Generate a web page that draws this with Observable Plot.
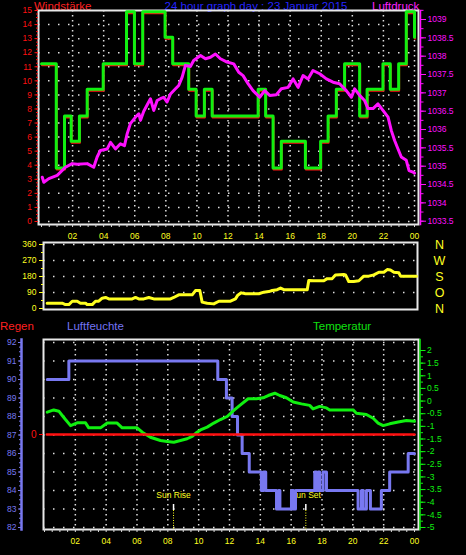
<!DOCTYPE html>
<html><head><meta charset="utf-8">
<script src="https://cdn.jsdelivr.net/npm/d3@7"></script>
<script src="https://cdn.jsdelivr.net/npm/@observablehq/plot@0.6"></script>
<style>
html,body{margin:0;padding:0;background:#000;}
#chart{position:relative;width:466px;height:555px;background:#000;overflow:hidden;font-family:"Liberation Sans",Arial,sans-serif;}
.layer{position:absolute;left:0;}
.lbl{position:absolute;white-space:nowrap;font-size:11.5px;line-height:12px;}
</style></head><body>
<div id="chart">
  <div class="lbl" style="left:34px;top:-0.5px;color:#ff2020">Windstärke</div>
  <div class="lbl" style="left:256px;top:-0.5px;color:#2424ff;transform:translateX(-50%)">24 hour graph day : 23 Januar 2015</div>
  <div class="lbl" style="left:372px;top:-0.5px;color:#ff20ff">Luftdruck</div>
  <div class="lbl" style="left:0px;top:320px;color:#ff2020">Regen</div>
  <div class="lbl" style="left:67px;top:320px;color:#7474f4">Luftfeuchte</div>
  <div class="lbl" style="left:313px;top:320px;color:#10e010">Temperatur</div>
</div>
<script>
// ---------- data ----------
const hourTicks  = [2,4,6,8,10,12,14,16,18,20,22,24];
const hourLabels = ["02","04","06","08","10","12","14","16","18","20","22","00"];

// Windstärke (step series)
const windTime  = [0,0.95,1.48,1.91,2.44,2.94,3.97,5.47,5.98,6.51,7.95,8.44,9.47,9.95,10.48,10.98,13.94,14.42,14.90,15.43,16.98,17.96,18.44,18.97,19.50,20.47,20.95,21.97,22.44,22.98,23.47,24.0];
const windSpeed = [11.1,3.7,7.4,5.6,7.4,9.3,11.1,14.8,11.1,14.8,13.0,11.1,9.3,7.4,9.3,7.4,9.3,7.4,3.7,5.6,3.7,5.6,7.4,9.3,11.1,7.4,9.3,11.1,9.3,11.1,14.8,13.0];
const windTicks = [0,1,2,3,4,5,6,7,8,9,10,11,12,13,14,15];

// Luftdruck
const pressTime = [0.05,0.15,0.47,1.01,1.54,1.97,2.30,2.94,3.36,3.58,3.79,4.23,4.44,4.76,5.08,5.34,5.51,5.72,6.05,6.26,6.37,6.58,7.01,7.22,7.44,7.65,7.86,8.08,8.30,8.62,8.83,9.05,9.26,9.58,9.79,10.23,10.55,10.87,11.19,11.51,11.94,12.37,12.69,12.97,13.29,13.61,14.04,14.36,14.68,15.11,15.43,15.87,16.19,16.51,16.83,17.15,17.47,17.90,18.33,18.76,19.18,19.61,19.94,20.15,20.47,20.79,21.01,21.33,21.65,21.97,22.30,22.51,22.72,22.94,23.15,23.47,23.65,23.90,24.0];
const pressure  = [1034.70,1034.56,1034.66,1034.75,1034.97,1035.07,1035.05,1035.07,1034.97,1035.25,1035.43,1035.47,1035.65,1035.47,1035.61,1035.56,1035.88,1036.16,1036.34,1036.43,1036.25,1036.50,1036.84,1036.52,1036.79,1036.84,1036.88,1036.75,1036.97,1037.11,1037.20,1037.43,1037.75,1037.72,1037.88,1038.02,1037.93,1037.97,1038.06,1037.93,1037.84,1037.79,1037.56,1037.47,1037.25,1037.06,1036.88,1037.06,1036.93,1036.95,1037.11,1037.15,1037.38,1037.15,1037.47,1037.38,1037.61,1037.52,1037.38,1037.29,1037.25,1037.06,1036.88,1037.11,1036.93,1036.79,1036.57,1036.57,1036.70,1036.52,1036.34,1035.97,1035.70,1035.47,1035.25,1035.16,1034.88,1034.84,1034.81];
const pressTicks  = [1033.5,1034,1034.5,1035,1035.5,1036,1036.5,1037,1037.5,1038,1038.5,1039];
const pressLabels = ["1033.5","1034","1034.5","1035","1035.5","1036","1036.5","1037","1037.5","1038","1038.5","1039"];

// Windrichtung
const dirTime  = [0.17,1.14,1.35,1.57,1.79,2.11,2.32,2.65,2.75,3.08,3.29,3.50,3.72,3.94,4.15,5.66,5.87,6.08,6.41,6.73,7.05,8.13,8.34,8.66,9.53,9.74,10.02,10.17,10.50,10.92,11.25,12.0,12.32,12.47,12.69,12.97,13.83,14.15,14.47,14.69,15.01,15.23,15.44,16.95,17.05,17.37,18.02,18.24,18.56,18.77,19.31,19.42,19.63,19.95,20.28,20.60,20.92,21.25,21.57,21.89,22.11,22.32,22.54,22.86,22.97,24.0];
const direction = [30,30,22,22,41,41,30,30,22,22,41,41,58,62,54,54,62,54,54,62,54,54,62,77,77,101,101,36,30,26,41,41,54,75,88,83,83,92,95,101,106,115,106,106,157,156,156,168,168,189,191,189,152,152,156,182,182,189,204,204,219,216,204,201,182,182];
const dirTicks   = [0,90,180,270,360];
const dirCompass = ["N","O","S","W","N"];

// Luftfeuchte (step series)
const humTime  = [0.18,1.58,11.24,11.80,12.17,12.52,12.82,13.28,14.07,14.20,14.35,15.05,15.18,15.27,16.02,16.15,16.28,17.53,17.64,17.75,17.85,18.07,18.29,20.34,20.56,20.67,20.88,21.14,21.85,22.39,23.59,24.0];
const humidity = [90,91,90,89,88,87,86,85,84,85,84,83,84,83,84,83,84,85,84,85,84,85,84,83,84,83,84,83,84,85,86,86];
const humTicks = [82,83,84,85,86,87,88,89,90,91,92];

// Temperatur
const tempTime = [0.18,0.60,0.93,1.15,1.36,1.69,2.12,2.66,2.87,3.63,4.07,4.71,5.04,6.01,6.34,6.87,7.52,7.96,8.39,8.82,9.25,9.58,9.90,10.12,10.55,10.98,11.41,11.85,12.28,12.67,13.21,13.75,14.18,14.51,14.94,15.26,15.69,16.13,16.67,17.20,17.42,17.85,18.29,18.50,20.02,20.23,20.88,21.32,21.64,21.97,22.39,22.94,23.48,24.0];
const temperature = [-0.44,-0.35,-0.40,-0.57,-0.73,-0.97,-0.86,-0.86,-1.06,-1.06,-0.87,-0.87,-1.06,-1.06,-1.23,-1.43,-1.56,-1.60,-1.63,-1.56,-1.49,-1.40,-1.23,-1.14,-1.03,-0.87,-0.73,-0.61,-0.37,-0.17,0.09,0.09,0.13,0.22,0.31,0.22,0.13,-0.04,-0.11,-0.17,-0.31,-0.21,-0.27,-0.35,-0.35,-0.48,-0.53,-0.68,-0.87,-0.97,-0.90,-0.83,-0.77,-0.80];
const tempTicks  = [-5,-4.5,-4,-3.5,-3,-2.5,-2,-1.5,-1,-0.5,0,0.5,1,1.5,2];
const tempLabels = ["-5","-4.5","-4","-3.5","-3","-2.5","-2","-1.5","-1","-0.5","0","0.5","1","1.5","2"];

// Regen
const rainTime = [0.15, 24.0];
const rain     = [0, 0];
const rainTicks = [0];

// Sonne
const sunTime   = [8.37, 16.95];
const sunLabels = ["Sun Rise", "Sun Set"];

// ---------- tables ----------
const wind  = windTime.map((t,i)=>({t, v: windSpeed[i]}));
const press = pressTime.map((t,i)=>({t, v: pressure[i]}));
const dir   = dirTime.map((t,i)=>({t, v: direction[i]}));
const hum   = humTime.map((t,i)=>({t, v: humidity[i]}));
const temp  = tempTime.map((t,i)=>({t, v: temperature[i]}));
const rainD = rainTime.map((t,i)=>({t, v: rain[i]}));
const sun   = sunTime.map((t,i)=>({t, label: sunLabels[i]}));
const fmt = (ticks, labels) => d => labels[ticks.indexOf(d)];

// ---------- styles ----------
const FONT = "'Liberation Sans', Arial, sans-serif";
const base = {width: 466, style: {background: "transparent", color: "#fff", fontFamily: FONT, fontSize: "8.5px", overflow: "visible"}};
const DOTH = {stroke: "#e0e0e0", strokeOpacity: 1, strokeWidth: 1.5, strokeDasharray: "1.5,8.5"};
const DOTV = {stroke: "#e0e0e0", strokeOpacity: 1, strokeWidth: 1.5, strokeDasharray: "1.5,3.5"};
const RED = "#ff1010", GREEN = "#10f010", MAG = "#ff10ff", YEL = "#ffff20", BLUE = "#7878f0";
const minor = (a, b, s) => d3.range(a, b + s/2, s);

const chart = document.getElementById("chart");
function add(svg, top) {
  svg.classList.add("layer");
  svg.style.position = "absolute";
  svg.style.top = top + "px";
  svg.style.left = "0px";
  chart.appendChild(svg);
}

// ---------- top panel: wind speed ----------
const topBox = {height: 245, marginTop: 10, marginBottom: 21, marginLeft: 38, marginRight: 48};
add(Plot.plot({
  ...base, ...topBox,
  x: {domain: [0, 24], range: [41, 414], label: null},
  y: {domain: [0, 15], range: [221, 10], label: null},
  marks: [
    Plot.gridY(windTicks.slice(0, -1), DOTH),
    Plot.gridX(hourTicks, DOTV),
    Plot.frame({stroke: "#e8e8e8", strokeWidth: 2}),
    Plot.axisY({anchor: "left", ticks: minor(0, 15, 0.25), tickSize: 2, text: null, stroke: RED, label: null}),
    Plot.axisY(windTicks, {anchor: "left", tickSize: 3.5, tickPadding: 3, stroke: RED, fill: RED, label: null, fontSize: "8.5px"}),
    Plot.axisX({anchor: "bottom", ticks: minor(0, 24, 0.5), tickSize: 3, text: null, stroke: "#d8d8d8", label: null}),
    Plot.axisX(hourTicks, {anchor: "bottom", tickSize: 0, tickPadding: 8, fill: YEL, tickFormat: fmt(hourTicks, hourLabels), label: null, fontSize: "8.5px"}),
    Plot.line(wind, {x: "t", y: "v", curve: "step-after", stroke: RED, strokeWidth: 2, dx: 0.5}),
    Plot.line(wind, {x: "t", y: "v", curve: "step-after", stroke: GREEN, strokeWidth: 3, dy: -1.5})
  ]
}), 0);

// ---------- top panel: pressure ----------
add(Plot.plot({
  ...base, ...topBox,
  x: {domain: [0, 24], range: [41, 414], axis: null, label: null},
  y: {domain: [1033.5, 1039], range: [220.7, 19], label: null},
  marks: [
    Plot.frame({anchor: "right", stroke: MAG, strokeWidth: 1.5, dx: 2}),
    Plot.axisY({anchor: "right", ticks: minor(1033.5, 1039.25, 0.25), tickSize: 2.5, text: null, stroke: MAG, label: null, dx: 2}),
    Plot.axisY(pressTicks, {anchor: "right", tickSize: 5, tickPadding: 2, stroke: MAG, fill: MAG, tickFormat: fmt(pressTicks, pressLabels), label: null, fontSize: "8.5px", dx: 2}),
    Plot.line(press, {x: "t", y: "v", stroke: MAG, strokeWidth: 3})
  ]
}), 0);

// ---------- middle panel: wind direction ----------
add(Plot.plot({
  ...base, height: 84, marginTop: 6, marginBottom: 11, marginLeft: 43, marginRight: 49,
  x: {domain: [0, 24], range: [44, 416], axis: null, label: null},
  y: {domain: [0, 360], range: [72, 8], label: null},
  marks: [
    Plot.gridY(dirTicks.slice(1), DOTH),
    Plot.frame({stroke: "#e8e8e8", strokeWidth: 2}),
    Plot.axisY({anchor: "left", ticks: minor(0, 360, 45), tickSize: 2, text: null, stroke: YEL, label: null}),
    Plot.axisY(dirTicks, {anchor: "left", tickSize: 4, tickPadding: 3, stroke: YEL, fill: YEL, label: null, fontSize: "8.5px"}),
    Plot.axisY(dirTicks, {anchor: "right", tickSize: 0, tickPadding: 22, textAnchor: "middle", fill: YEL, tickFormat: fmt(dirTicks, dirCompass), label: null, fontSize: "12.5px"}),
    Plot.line(dir, {x: "t", y: "v", stroke: YEL, strokeWidth: 3})
  ]
}), 236);

// ---------- bottom panel: humidity ----------
const botBox = {height: 235, marginTop: 19, marginBottom: 26, marginLeft: 43, marginRight: 48};
add(Plot.plot({
  ...base, ...botBox,
  x: {domain: [0, 24], range: [44, 414], label: null},
  y: {domain: [82, 92], range: [207, 22], label: null},
  marks: [
    Plot.gridY(humTicks, DOTH),
    Plot.gridX(hourTicks, DOTV),
    Plot.frame({stroke: "#e8e8e8", strokeWidth: 2}),
    Plot.frame({anchor: "left", stroke: BLUE, strokeWidth: 2.5, dx: -22}),
    Plot.axisY({anchor: "left", ticks: minor(82, 92, 0.25), tickSize: 2, text: null, stroke: BLUE, label: null, dx: -22}),
    Plot.axisY(humTicks, {anchor: "left", tickSize: 3, tickPadding: 2, stroke: BLUE, fill: BLUE, label: null, fontSize: "8.5px", dx: -22}),
    Plot.axisX({anchor: "bottom", ticks: minor(0, 24, 0.5), tickSize: 3, text: null, stroke: "#d8d8d8", label: null}),
    Plot.axisX(hourTicks, {anchor: "bottom", tickSize: 0, tickPadding: 8, fill: YEL, tickFormat: fmt(hourTicks, hourLabels), label: null, fontSize: "8.5px"}),
    Plot.ruleX(sun, {x: "t", stroke: YEL, strokeWidth: 1, strokeDasharray: "1,1.5", insetTop: 171}),
    Plot.ruleX(sun, {x: "t", stroke: "#fff", strokeWidth: 1.5, insetTop: 165, insetBottom: 19}),
    Plot.text(sun, {x: "t", text: "label", frameAnchor: "bottom", dy: -31.5, fill: YEL, fontSize: "8.5px"}),
    Plot.line(hum, {x: "t", y: "v", curve: "step-after", stroke: BLUE, strokeWidth: 3})
  ]
}), 320);

// ---------- bottom panel: temperature ----------
add(Plot.plot({
  ...base, ...botBox,
  x: {domain: [0, 24], range: [44, 414], axis: null, label: null},
  y: {domain: [-5, 2], range: [207, 30], label: null},
  marks: [
    Plot.frame({anchor: "right", stroke: GREEN, strokeWidth: 1.5, dx: 1.5}),
    Plot.axisY({anchor: "right", ticks: minor(-5, 2, 0.25), tickSize: 2.5, text: null, stroke: GREEN, label: null, dx: 1.5}),
    Plot.axisY(tempTicks, {anchor: "right", tickSize: 5, tickPadding: 2, stroke: GREEN, fill: GREEN, tickFormat: fmt(tempTicks, tempLabels), label: null, fontSize: "8.5px", dx: 1.5}),
    Plot.line(temp, {x: "t", y: "v", stroke: GREEN, strokeWidth: 3})
  ]
}), 320);

// ---------- bottom panel: rain ----------
add(Plot.plot({
  ...base, ...botBox,
  x: {domain: [0, 24], range: [44, 414], axis: null, label: null},
  y: {domain: [0, 10], range: [114, 22], label: null},
  marks: [
    Plot.axisY(rainTicks, {anchor: "left", tickSize: 4, tickPadding: 3, stroke: RED, fill: RED, label: null, fontSize: "10px"}),
    Plot.line(rainD, {x: "t", y: "v", stroke: RED, strokeWidth: 2.5})
  ]
}), 320);
</script>
</body></html>
